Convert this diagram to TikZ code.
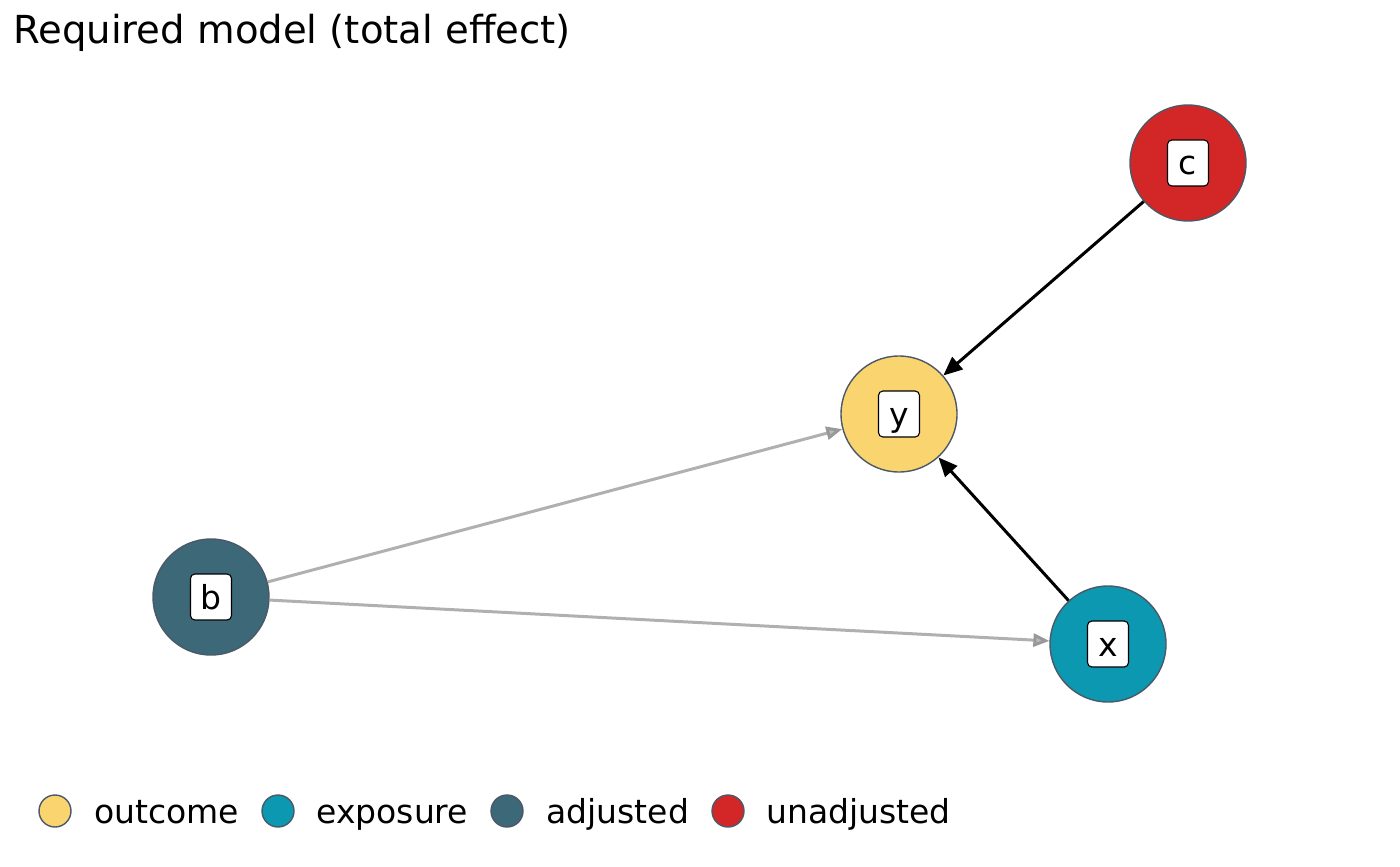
\documentclass[tikz,border=0pt]{standalone}
\usepackage{fontspec}
\setmainfont{DejaVu Sans}
\usetikzlibrary{arrows.meta}

\definecolor{outcomefill}{HTML}{F9D46F}
\definecolor{exposurefill}{HTML}{0B98B0}
\definecolor{adjustedfill}{HTML}{3D6878}
\definecolor{unadjustedfill}{HTML}{D32727}
\definecolor{rim}{HTML}{4B5868}
\definecolor{pathgrey}{HTML}{B0B0B0}

\tikzset{dag node/.style={circle,draw=rim,line width=0.7pt,minimum size=58pt,inner sep=0pt},
label box/.style={draw=black,fill=white,rounded corners=2.2pt,line width=0.55pt,minimum width=20.5pt,minimum height=23pt,inner sep=0pt,font=\fontsize{16.5}{18}\selectfont,text height=12.5pt,text depth=0.5pt},
causal/.style={line width=1.5pt,-{Triangle[length=9.5pt,width=8pt]}},
biasing/.style={draw=pathgrey,line width=1.5pt,-{Triangle[length=8pt,width=6.5pt,color=gray!80,fill=gray!55]}},
key dot/.style={circle,draw=rim,line width=0.7pt,minimum size=16pt,inner sep=0pt},
key text/.style={anchor=base west,inner sep=0pt,font=\fontsize{16.5}{18}\selectfont},
plot title/.style={anchor=base west,inner sep=0pt,font=\fontsize{19.3}{22}\selectfont}}

\begin{document}
\begin{tikzpicture}[x=0.5pt,y=-0.5pt]
\useasboundingbox (0,0) rectangle (1400,866);

%% title
\node [plot title] (title) at (13,44) {Required model (total effect)};

%% coordinates of the dag nodes
\coordinate (pc) at (1188,163);
\coordinate (py) at (899,414);
\coordinate (pb) at (211,597);
\coordinate (px) at (1108,644);

%% circles
\node [dag node,fill=unadjustedfill] (c) at (pc) {};
\node [dag node,fill=outcomefill] (y) at (py) {};
\node [dag node,fill=adjustedfill] (b) at (pb) {};
\node [dag node,fill=exposurefill] (x) at (px) {};

%% edges
\draw [biasing] (b) -- (y);
\draw [biasing] (b) -- (x);
\draw [causal] (c) -- (y);
\draw [causal] (x) -- (y);

%% labels
\node [label box] (lc) at (pc) {c};
\node [label box] (ly) at (py) {y};
\node [label box] (lb) at (pb) {b};
\node [label box] (lx) at (px) {x};

%% legend
\node [key dot,fill=outcomefill] (k1) at (55,811) {};
\node [key text] (t1) at (94,823) {outcome};
\node [key dot,fill=exposurefill] (k2) at (278,811) {};
\node [key text] (t2) at (316,823) {exposure};
\node [key dot,fill=adjustedfill] (k3) at (507,811) {};
\node [key text] (t3) at (546,823) {adjusted};
\node [key dot,fill=unadjustedfill] (k4) at (728,811) {};
\node [key text] (t4) at (766,823) {unadjusted};

\end{tikzpicture}
\end{document}
